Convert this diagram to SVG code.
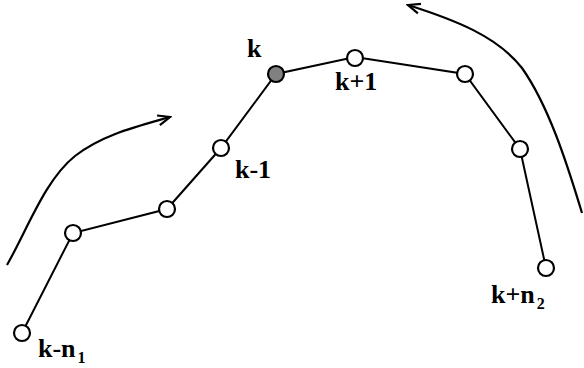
<svg xmlns="http://www.w3.org/2000/svg" width="584" height="368" viewBox="0 0 584 368">
  <defs>
    <marker id="barb" viewBox="-14 -7 16 14" markerWidth="16" markerHeight="14" refX="0" refY="0" orient="auto" markerUnits="userSpaceOnUse">
      <path d="M-12,-5 L0,0 L-12,5" fill="none" stroke="#000" stroke-width="2.2" stroke-linejoin="miter"/>
    </marker>
  </defs>
  <style>
    .pt { fill: #fff; stroke: #000; stroke-width: 2.2; }
    .cur { fill: #808080; stroke: #000; stroke-width: 2.2; }
    .seg { stroke: #000; stroke-width: 2; fill: none; }
    .flow { stroke: #000; stroke-width: 2.2; fill: none; marker-end: url(#barb); }
    .lbl { font-family: "Liberation Serif", "Times New Roman", serif; font-weight: bold; font-size: 26px; fill: #000; }
    .sub { font-size: 16px; }
  </style>
  <rect width="584" height="368" fill="#fff"/>

  <!-- polyline connecting the sample points, plus the two direction arrows -->
  <g id="connectors">
    <polyline class="seg" points="22,333 73,233 167,209 221,148 276,74 355,57 465,74 520,149 546,268"/>
    <path class="flow" d="M7,265 C28,228 45,180 75,156 C102,135 135,127 170,117"/>
    <path class="flow" d="M582,213 C566,160 548,105 522,68 C497,36 455,20 408,5"/>
  </g>

  <g id="n-k-n1">
    <circle class="pt" cx="22" cy="333" r="8"/>
    <text class="lbl" x="38" y="357">k-n<tspan class="sub" dx="2" dy="6">1</tspan></text>
  </g>
  <g id="n-2"><circle class="pt" cx="73" cy="233" r="8"/></g>
  <g id="n-3"><circle class="pt" cx="167" cy="209" r="8"/></g>
  <g id="n-k-1">
    <circle class="pt" cx="221" cy="148" r="8"/>
    <text class="lbl" x="235" y="178">k-1</text>
  </g>
  <g id="n-k">
    <circle class="cur" cx="276" cy="74" r="8"/>
    <text class="lbl" x="247" y="57">k</text>
  </g>
  <g id="n-k+1">
    <circle class="pt" cx="355" cy="58" r="8"/>
    <text class="lbl" x="335" y="90">k+1</text>
  </g>
  <g id="n-7"><circle class="pt" cx="465" cy="74" r="8"/></g>
  <g id="n-8"><circle class="pt" cx="520" cy="149" r="8"/></g>
  <g id="n-k+n2">
    <circle class="pt" cx="546" cy="268" r="8"/>
    <text class="lbl" x="491" y="303">k+n<tspan class="sub" dx="2" dy="6">2</tspan></text>
  </g>
</svg>
